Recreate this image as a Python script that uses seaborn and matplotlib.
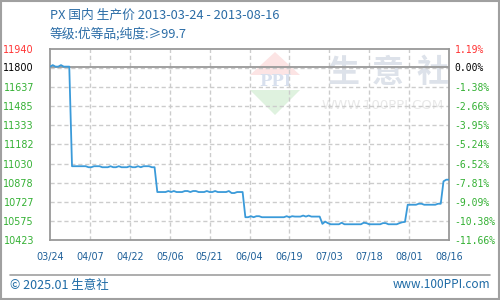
import numpy as np
import pandas as pd
import matplotlib
matplotlib.use("Agg")
import matplotlib.pyplot as plt
import seaborn as sns
from matplotlib.patches import Polygon, Rectangle
from matplotlib.lines import Line2D

# ---------------- data ----------------
title = "PX 国内 生产价 2013-03-24 - 2013-08-16"
subtitle = "等级:优等品;纯度:≥99.7"
start_date = "2013-03-24"
end_date = "2013-08-16"

price = [
    11800, 11812, 11800, 11800, 11812, 11800, 11800, 11800,
    11009, 11009, 11009, 11009, 11009, 11009, 11001, 11001, 11009, 11009,
    11009, 11001, 11001, 11001, 11009, 11001, 11001, 11009, 11001, 11001,
    11001, 11009, 11001, 11001, 11009, 11001, 11009, 11009, 11009, 11001,
    11001,
    10804, 10804, 10804, 10804, 10812, 10804, 10812, 10804, 10804, 10804,
    10812, 10812, 10804, 10812, 10812, 10804, 10804, 10804, 10812, 10804,
    10804, 10812, 10804, 10804, 10804, 10804, 10812, 10796, 10796, 10804,
    10804, 10804,
    10604, 10604, 10612, 10604, 10612, 10612, 10604, 10604, 10604, 10604,
    10604, 10604, 10604, 10604, 10604, 10612, 10604, 10612, 10609, 10609,
    10609, 10617, 10609, 10617, 10609, 10609, 10609, 10609,
    10551, 10569, 10557, 10548, 10548, 10548, 10548, 10560, 10548, 10548,
    10548, 10548, 10548, 10548, 10548, 10560, 10557, 10548, 10548, 10548,
    10548, 10548, 10557, 10557, 10548, 10548, 10548, 10548, 10557, 10564,
    10567,
    10703, 10703, 10703, 10703, 10711, 10711, 10703, 10703, 10703, 10703,
    10703, 10711, 10711, 10889, 10902, 10902,
]

base_price = 11800
y_min, y_max = 10423, 11940
left_ticks = [10423, 10575, 10727, 10878, 11030, 11182, 11333, 11485, 11637, 11800, 11940]
left_labels = ["10423", "10575", "10727", "10878", "11030", "11182", "11333",
               "11485", "11637", "11800", "11940"]
grid_levels = [10575, 10727, 10878, 11030, 11182, 11333, 11485, 11637, 11788]
right_labels = ["-11.66%", "-10.38%", "-9.09%", "-7.81%", "-6.52%", "-5.24%",
                "-3.95%", "-2.66%", "-1.38%", "0.00%", "1.19%"]
x_labels = ["03/24", "04/07", "04/22", "05/06", "05/21", "06/04", "06/19",
            "07/03", "07/18", "08/01", "08/16"]

dates = pd.date_range(start_date, end_date, freq="D")
assert len(dates) == len(price)
day = (dates - dates[0]).days.values
df = pd.DataFrame({"day": day, "price": price})
total_days = int(day[-1])

# ---------------- style ----------------
sns.set_theme(style="white")
plt.rcParams["font.family"] = ["DejaVu Sans", "Noto Sans CJK SC"]
CJK = ["Noto Sans CJK SC", "DejaVu Sans"]

W, H = 500, 300
fig = plt.figure(figsize=(5, 3), dpi=100)
fig.patch.set_facecolor("white")

def fx(px):
    return px / W

def fy(py):
    return 1 - py / H

ax = fig.add_axes([fx(50), fy(240), fx(449) - fx(50), fy(49) - fy(240)])
ax.set_facecolor("none")

# watermark (behind grid)
wm = dict(transform=fig.transFigure, zorder=0.1, clip_on=False)
ax.add_patch(Polygon([(fx(275), fy(52)), (fx(250), fy(75)), (fx(300), fy(75))],
                     closed=True, fc="#fce4e4", ec="none", **wm))
ax.add_patch(Polygon([(fx(250), fy(90)), (fx(300), fy(90)), (fx(275), fy(115))],
                     closed=True, fc="#dff2df", ec="none", **wm))
ax.text(fx(275), fy(82), "PPI", ha="center", va="center", fontsize=12,
        family="DejaVu Serif", fontweight="bold", color="#d8e0ee", **wm)
for cx, ch in zip([343, 388, 433], ["生", "意", "社"]):
    ax.text(fx(cx), fy(73), ch, ha="center", va="center", fontsize=23,
            family=CJK, fontweight="bold", color="#dde2ea", **wm)
ax.text(fx(383), fy(106), "WWW.100PPI.COM", ha="center", va="center",
        fontsize=9.5, color="#e8e8e8", **wm)

sns.lineplot(data=df, x="day", y="price", ax=ax, color="#3a9ad9",
             linewidth=1.3, zorder=3)

ax.set_xlim(0, total_days)
ax.set_ylim(y_min, y_max)
ax.set_xlabel("")
ax.set_ylabel("")

xt = np.linspace(0, total_days, len(x_labels))
ax.set_xticks(xt)
ax.set_xticklabels(x_labels)
ax.set_yticks(left_ticks)
ax.set_yticklabels(left_labels)

grid_kw = dict(color="#cccccc", linestyle=(0, (3, 2)), linewidth=1.0, zorder=0.5)
for g in grid_levels:
    ax.axhline(g, **grid_kw)
for t in xt[1:-1]:
    ax.axvline(t, **grid_kw)
ax.axhline(base_price, color="#999999", linewidth=1.3, zorder=2)

for s in ax.spines.values():
    s.set_color("#999999")
    s.set_linewidth(1.3)
    s.set_visible(True)

ax.tick_params(axis="x", length=0, pad=8.5, labelsize=6.9, labelcolor="#1d5f99")
ax.tick_params(axis="y", length=0, pad=11.5, labelsize=6.9)
green = "#33b033"
for i, lab in enumerate(ax.get_yticklabels()):
    lab.set_color("#ff3333" if i == len(left_ticks) - 1 else
                  ("#000000" if i == len(left_ticks) - 2 else green))

ax2 = ax.twinx()
ax2.set_ylim(y_min, y_max)
ax2.set_yticks(left_ticks)
ax2.set_yticklabels(right_labels, family="DejaVu Sans Mono")
ax2.tick_params(axis="y", length=0, pad=4, labelsize=7)
for s in ax2.spines.values():
    s.set_visible(False)
ax2.grid(False)
for i, lab in enumerate(ax2.get_yticklabels()):
    lab.set_color("#ff3333" if i == len(left_ticks) - 1 else
                  ("#000000" if i == len(left_ticks) - 2 else green))

# titles
fig.text(fx(50), fy(15), title, ha="left", va="center", fontsize=9.2,
         family=CJK, color="#2a6ca6")
fig.text(fx(50), fy(34), subtitle, ha="left", va="center", fontsize=9.2,
         family=CJK, color="#2a6ca6")

# footer
fig.add_artist(Line2D([fx(10), fx(490)], [fy(275), fy(275)],
                      transform=fig.transFigure, color="#a0a0a0", linewidth=1.2))
fig.text(fx(10), fy(285), "© 2025.01 生意社", ha="left", va="center",
         fontsize=9, family=CJK, color="#1d6aa5")
fig.text(fx(490), fy(285), "www.100PPI.com", ha="right", va="center",
         fontsize=8.5, family=CJK, color="#1d6aa5")

# outer frame
fig.add_artist(Rectangle((0.001, 0.002), 0.997, 0.996, transform=fig.transFigure,
                         fill=False, edgecolor="#a0a0a0", linewidth=1.5))

fig.savefig("out.png", dpi=100)
